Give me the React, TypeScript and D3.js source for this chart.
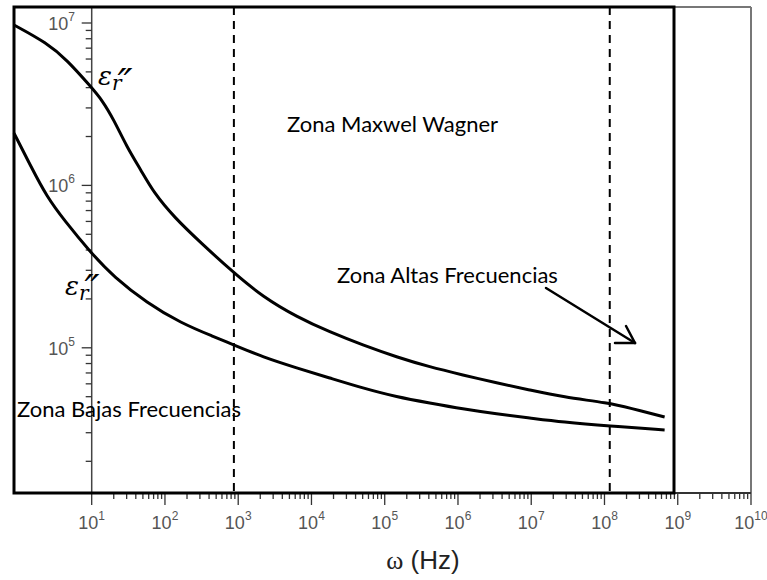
import React from "react";
import * as d3 from "d3";

// readings (frequency in Hz, permittivity)
const upperFreq = [0.87, 2.45, 4.6, 9.78, 13.8, 20.1, 30.3, 47.1, 70.8, 133, 310, 873, 2170, 6310, 17800, 50200, 146000, 412000, 1.16e6, 3.38e6, 9.53e6, 2.69e7, 1.14e8, 2.2e8, 6.62e8];
const upperEps = [9.72e6, 7.53e6, 5.92e6, 4.04e6, 3.36e6, 2.53e6, 1.72e6, 1.24e6, 8.98e5, 6.38e5, 4.42e5, 2.89e5, 2.06e5, 1.55e5, 1.25e5, 1.04e5, 8.77e4, 7.62e4, 6.81e4, 6.07e4, 5.5e4, 4.98e4, 4.57e4, 4.26e4, 3.75e4];

const lowerFreq = [0.87, 1.49, 2.45, 4.19, 9.78, 20.1, 56.8, 165, 466, 873, 2170, 6310, 17800, 50200, 146000, 412000, 1.16e6, 3.38e6, 9.53e6, 2.69e7, 1.14e8, 6.62e8];
const lowerEps = [2.1e6, 1.3e6, 8.49e5, 6.12e5, 3.84e5, 2.73e5, 1.89e5, 1.42e5, 1.17e5, 1.04e5, 8.77e4, 7.51e4, 6.52e4, 5.65e4, 4.98e4, 4.57e4, 4.2e4, 3.91e4, 3.7e4, 3.49e4, 3.3e4, 3.12e4];

// zone boundaries (dashed lines)
const zoneBounds = [873, 1.18e8];

const zoneLabels = ["Zona Maxwel Wagner", "Zona Altas Frecuencias", "Zona Bajas Frecuencias"];

const W = 767;
const H = 580;
const box = { left: 14, top: 7, right: 674, bottom: 493 };
const axisLeft = 91.7;
const axisRight = 751;

export default function App() {
  const x = d3.scaleLog().domain([10, 1e10]).range([axisLeft, axisRight]);
  const yBase = d3.scaleLog().domain([1e5, 1e7]).range([347.8, 23]);
  // y axis spans the whole frame height
  const y = d3.scaleLog()
    .domain([yBase.invert(box.bottom), yBase.invert(box.top)])
    .range([box.bottom, box.top]);

  const line = d3.line<[number, number]>()
    .x(d => x(d[0]))
    .y(d => y(d[1]))
    .curve(d3.curveBasis);

  const upper = d3.zip(upperFreq, upperEps) as [number, number][];
  const lower = d3.zip(lowerFreq, lowerEps) as [number, number][];

  const isMajor = (t: number) => Math.abs(Math.log10(t) - Math.round(Math.log10(t))) < 1e-9;
  const xTicks = x.ticks();
  const yTicks = y.ticks();

  const tickColor = "#333";
  const labelColor = "#555";
  const sans = "'Liberation Sans', Arial, sans-serif";
  const calib = "Lato, 'Open Sans', sans-serif";
  const math = "'DejaVu Serif', serif";

  return (
    <svg width={W} height={H} style={{ position: "absolute", left: 0, top: 0, background: "#fff" }}>
      {/* original plot frame */}
      <line x1={axisLeft} x2={axisRight} y1={box.top} y2={box.top} stroke="#777" strokeWidth={2} />
      <line x1={axisRight} x2={axisRight} y1={box.top} y2={box.bottom} stroke="#777" strokeWidth={2} />
      <line x1={axisLeft} x2={axisRight} y1={box.bottom} y2={box.bottom} stroke="#333" strokeWidth={2} />
      <line x1={axisLeft} x2={axisLeft} y1={box.top} y2={box.bottom} stroke="#444" strokeWidth={1.5} />

      {/* x ticks */}
      {xTicks.map((t, i) => (
        <line key={"xt" + i} x1={x(t)} x2={x(t)} y1={box.bottom} y2={box.bottom + (isMajor(t) ? 12 : 6)}
          stroke={tickColor} strokeWidth={1.3} />
      ))}
      {xTicks.filter(isMajor).map((t, i) => (
        <text key={"xl" + i} x={x(t)} y={529} textAnchor="middle" fontFamily={sans} fontSize={18} fill={labelColor}>
          10<tspan dy={-9} fontSize={12}>{Math.round(Math.log10(t))}</tspan>
        </text>
      ))}

      {/* y ticks */}
      {yTicks.map((t, i) => (
        <line key={"yt" + i} x1={axisLeft} x2={axisLeft - (isMajor(t) ? 10 : 6)} y1={y(t)} y2={y(t)}
          stroke={tickColor} strokeWidth={1.3} />
      ))}
      {yTicks.filter(isMajor).map((t, i) => (
        <text key={"yl" + i} x={75} y={y(t) + 7} textAnchor="end" fontFamily={sans} fontSize={18} fill={labelColor}>
          10<tspan dy={-9} fontSize={12}>{Math.round(Math.log10(t))}</tspan>
        </text>
      ))}

      {/* zone dividers */}
      {zoneBounds.map((f, i) => (
        <line key={"z" + i} x1={x(f)} x2={x(f)} y1={box.top} y2={box.bottom}
          stroke="#000" strokeWidth={2} strokeDasharray="8,6" />
      ))}

      {/* curves */}
      <path d={line(upper) || ""} fill="none" stroke="#000" strokeWidth={3} />
      <path d={line(lower) || ""} fill="none" stroke="#000" strokeWidth={3} />

      {/* overlay box */}
      <rect x={box.left} y={box.top} width={box.right - box.left} height={box.bottom - box.top}
        fill="none" stroke="#000" strokeWidth={3} />

      {/* annotations */}
      <text x={287} y={132} fontFamily={calib} fontSize={22} fill="#000">{zoneLabels[0]}</text>
      <text x={337} y={283} fontFamily={calib} fontSize={22} fill="#000">{zoneLabels[1]}</text>
      <text x={17} y={417} fontFamily={calib} fontSize={22} fill="#000">{zoneLabels[2]}</text>

      <g stroke="#000" strokeWidth={2.5} fill="none" strokeLinecap="round">
        <line x1={546} y1={288} x2={635} y2={343} />
        <line x1={626} y1={326} x2={635} y2={343} />
        <line x1={615} y1={343} x2={635} y2={343} />
      </g>

      {/* epsilon labels */}
      <g fontFamily={math} fontStyle="italic" fill="#000">
        <text x={98} y={85} fontSize={26}>
          ε<tspan dy={5} fontSize={20}>r</tspan><tspan dx={-4} dy={7} fontSize={40} letterSpacing={-3}>′′</tspan>
        </text>
        <text x={65} y={295} fontSize={26}>
          ε<tspan dy={5} fontSize={20}>r</tspan><tspan dx={-4} dy={3} fontSize={40} letterSpacing={-3}>′′</tspan>
        </text>
      </g>

      {/* axis title */}
      <text x={423} y={569} textAnchor="middle" fontSize={26} fill="#222">
        <tspan fontFamily="'Liberation Serif', serif">ω</tspan>
        <tspan fontFamily={sans}> (Hz)</tspan>
      </text>
    </svg>
  );
}
